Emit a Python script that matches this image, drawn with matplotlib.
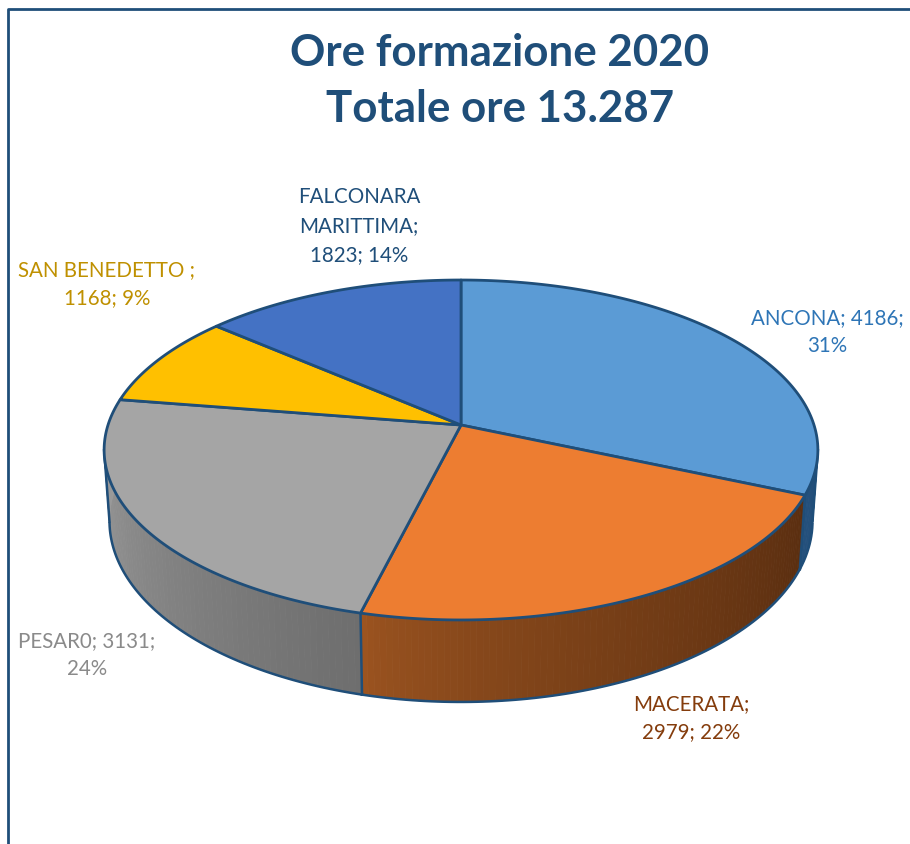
import numpy as np
import matplotlib
matplotlib.use('Agg')
import matplotlib.pyplot as plt
from matplotlib.collections import PolyCollection
from matplotlib.colors import to_rgb

# data
names = ['ANCONA', 'MACERATA', 'PESAR0', 'SAN BENEDETTO', 'FALCONARA MARITTIMA']
hours = [4186, 2979, 3131, 1168, 1823]
shares = [31, 22, 24, 9, 14]
top_colors = ['#5B9BD5', '#ED7D31', '#A5A5A5', '#FFC000', '#4472C4']
label_colors = ['#2E75B6', '#843C0C', '#8A8A8A', '#BF9000', '#1F4E79']
label_texts = ['ANCONA; 4186;\n31%', 'MACERATA;\n2979; 22%', 'PESAR0; 3131;\n24%',
               'SAN BENEDETTO ;\n1168; 9%', 'FALCONARA\nMARITTIMA;\n1823; 14%']
label_pos = [(827, 332), (691, 718), (87, 655), (107, 284), (359, 226)]
# wall shading, left to right along each slice
wall_from = ['#1F4468', '#9C5420', '#A0A0A0', '#A0A0A0', '#A0A0A0']
wall_to = ['#24507C', '#5A2E10', '#6E6E6E', '#A0A0A0', '#A0A0A0']

edge = '#1F4E79'
cx, cy = 461, 426
bx, by, k = 353, 166.3, 0.147


def top_rim(t):
    # t in radians, clockwise from 12 o'clock, tilted pie plane
    x, y = np.sin(t), np.cos(t)
    w = 1 + k * y
    return cx + bx * x / w, cy - by * y / w


def bottom_rim(t):
    x, y = top_rim(t)
    return cx + 0.985 * (x - cx), 703 + 1.065 * (y - 621)


fig = plt.figure(figsize=(9.1, 8.45), dpi=100)
ax = fig.add_axes([0, 0, 1, 1])
ax.set_xlim(0, 910)
ax.set_ylim(845, 0)
ax.axis('off')

cum = np.cumsum([0] + hours) / sum(hours) * 2 * np.pi

# where the outline of the cylinder leaves the rims
tt = np.linspace(0, 2 * np.pi, 1440)
xt_all, yt_all = top_rim(tt)
xb_all, yb_all = bottom_rim(tt)
right_top, left_top = np.argmax(xt_all), np.argmin(xt_all)
right_bot, left_bot = np.argmax(xb_all), np.argmin(xb_all)

# side walls, drawn first so the top face hides what is behind
for i in [0, 2, 1]:
    ts = np.linspace(cum[i], cum[i + 1], 90)
    xt, yt = top_rim(ts)
    xb, yb = bottom_rim(ts)
    quads = []
    cols = []
    c0, c1 = np.array(to_rgb(wall_from[i])), np.array(to_rgb(wall_to[i]))
    for j in range(len(ts) - 1):
        quads.append([(xt[j], yt[j]), (xt[j + 1], yt[j + 1]), (xb[j + 1], yb[j + 1]), (xb[j], yb[j])])
        f = j / (len(ts) - 2)
        if i > 0:
            f = 1 - f
        if i == 1:
            f = f ** 0.7
        cols.append(c0 + (c1 - c0) * f)
    ax.add_collection(PolyCollection(quads, facecolors=cols, edgecolors=cols, linewidths=0.6, zorder=2))
    keep = (ts >= tt[right_bot]) & (ts <= tt[left_bot])
    ax.plot(xb[keep], yb[keep], color=edge, lw=1.8, zorder=3)

# silhouette of the cylinder on both sides
for a, b in [(right_top, right_bot), (left_top, left_bot)]:
    ax.plot([xt_all[a], xb_all[b]], [yt_all[a], yb_all[b]], color=edge, lw=1.8, zorder=3)

# vertical edges at the slice borders
for t in cum[1:3]:
    ax.plot([top_rim(t)[0], bottom_rim(t)[0]], [top_rim(t)[1], bottom_rim(t)[1]], color=edge, lw=1.8, zorder=3)

# top face
for i in range(len(hours)):
    ts = np.linspace(cum[i], cum[i + 1], 120)
    xt, yt = top_rim(ts)
    ax.fill(np.r_[cx, xt], np.r_[cy, yt], facecolor=top_colors[i], edgecolor=edge, lw=2,
            joinstyle='round', zorder=4)

for txt, pos, col in zip(label_texts, label_pos, label_colors):
    ax.text(pos[0], pos[1], txt, color=col, fontsize=14.8, family='Lato', ha='center', va='center',
            linespacing=1.55, zorder=5)

ax.text(500, 81, 'Ore formazione 2020\nTotale ore 13.287', color=edge, fontsize=31.6, family='Lato',
        fontweight='bold', ha='center', va='center', linespacing=1.48, zorder=5)

# chart frame
ax.plot([8, 8, 910], [845, 10, 10], color=edge, lw=2, zorder=1)

fig.savefig('out.png', dpi=100)
